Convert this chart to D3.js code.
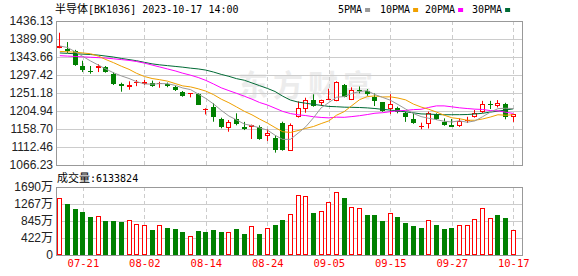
<!DOCTYPE html>
<html>
<head>
<meta charset="utf-8">
<script src="https://cdn.jsdelivr.net/npm/d3@7"></script>
<style>
  body { margin: 0; background: #fff; }
  svg { display: block; }
</style>
</head>
<body>
<div id="chart"></div>
<script>
var dates = ["07-18","07-19","07-20","07-21","07-24","07-25","07-26","07-27","07-28","07-31",
  "08-01","08-02","08-03","08-04","08-07","08-08","08-09","08-10","08-11","08-14",
  "08-15","08-16","08-17","08-18","08-21","08-22","08-23","08-24","08-25","08-28",
  "08-29","08-30","08-31","09-01","09-04","09-05","09-06","09-07","09-08","09-11",
  "09-12","09-13","09-14","09-15","09-18","09-19","09-20","09-21","09-22","09-25",
  "09-26","09-27","09-28","10-09","10-10","10-11","10-12","10-13","10-16","10-17"];

var openP = [1368,1365,1360,1321,1308.4,1315,1318.7,1300,1274.3,1265.8,
  1277,1275.4,1276,1277,1274,1267.4,1253.7,1247.5,1247.8,1210,
  1215.2,1183.6,1160.4,1183.6,1164.6,1165,1164.6,1140.6,1136.3,1174.6,
  1103,1188.7,1210,1233.2,1224.7,1235,1231.4,1271.7,1234,1258,
  1257,1241.6,1227,1209.5,1213.4,1200.7,1184.4,1164,1170.7,1196.5,
  1177.4,1169,1167,1180.4,1189.5,1203,1223.5,1217,1222.9,1190.5];
var highP = [1406,1382,1362,1334,1320.5,1325,1320.5,1304.3,1277.6,1281.2,
  1284.5,1284.6,1283,1280,1278,1270,1256.3,1251,1250.4,1212,
  1224.7,1187.7,1181.8,1199,1177,1170,1168,1158,1143.2,1177.5,
  1173,1229.6,1239,1247.8,1234,1262,1281.3,1274.3,1265.8,1268,
  1261,1250,1228,1248,1216,1203,1200,1175,1203.3,1199,
  1186,1184.3,1186,1190,1207.5,1231,1231,1233,1226,1197];
var lowP = [1366,1354,1321,1305,1300.7,1305,1303.3,1271.7,1254.5,1259.6,
  1268.8,1272,1267,1264.6,1266,1256.3,1241.6,1240,1220.3,1196,
  1177.4,1160.5,1151.7,1168.2,1156,1133,1131,1128,1098,1103,
  1102.8,1188,1200.5,1216,1218,1233,1230,1240,1233,1250.4,
  1244,1217.7,1203,1197,1199,1177,1172,1158,1160,1181.8,
  1167,1164,1164,1174,1188,1200,1210,1214,1183.6,1177];
var closeP = [1373,1358,1322,1309.5,1304.3,1321,1306,1274.3,1270,1271,
  1279.5,1278.6,1270,1278,1269,1259,1244.2,1250,1221,1211,
  1188.7,1163,1176.7,1170.8,1157.8,1168,1134,1149.2,1104.3,1104.7,
  1169,1212.9,1232,1218.6,1233.2,1237,1280,1241.6,1258.9,1257,
  1247.8,1230.6,1205,1222.9,1201.6,1190,1173,1165.5,1200.7,1184.4,
  1169,1164.3,1180,1183,1200.7,1222.9,1222,1226,1188.7,1196];

// 成交量, 万
var volume = [1426,1261,1137,1063,940,981,841,841,816,882,
  766,734,618,758,668,643,569,462,594,569,
  618,569,569,643,519,709,519,668,742,865,
  1030,1500,1475,1055,1104,1327,1574,1426,1203,1178,
  989,989,841,1055,940,791,717,668,882,742,
  643,668,734,734,907,1178,931,989,915,613.38];
// 1 = red (rise) volume bar, 0 = green, as in the picture
var volRise = [1,0,0,0,0,1,0,0,0,1, 1,1,0,1,0,0,0,1,0,0,
  0,0,1,0,0,1,0,1,0,0, 1,1,1,0,1,1,1,0,1,1,
  0,0,0,1,0,0,0,0,1,0, 0,0,1,1,1,1,1,0,0,1];

var ma5 = [1372,1368,1357,1345,1333.4,1323,1312.6,1303,1295.1,1288.5,
  1280.2,1274.7,1273.8,1275.4,1275,1270.9,1264,1260,1248.6,1237,
  1223,1206.7,1192.1,1182,1171.4,1167.3,1161.5,1156,1142.7,1132,
  1132.2,1148,1164.6,1187.4,1213.1,1226.7,1240.2,1242.1,1250.1,1254.9,
  1257.1,1247.2,1239.9,1232.7,1221.6,1210,1198.5,1190.6,1186.2,1182.7,
  1178.5,1176.8,1179.7,1176.1,1179.4,1190.2,1201.7,1210.9,1212.1,1211.1];
var ma10 = [1358,1357,1356,1354,1352,1346,1337,1329,1320,1312,
  1301.6,1293.6,1288.4,1285.3,1281.7,1275.5,1269.4,1266.9,1262,1256,
  1247,1235.4,1226.1,1215.3,1204.2,1195.1,1184.1,1174,1162.4,1151.7,
  1149.8,1154.7,1160.3,1165.1,1172.6,1179.5,1194.1,1203.3,1218.8,1234,
  1241.9,1243.7,1241,1241.4,1238.2,1233.5,1222.8,1215.2,1209.4,1202.2,
  1194.3,1187.6,1185.1,1181.2,1181.1,1184.4,1189.3,1195.3,1194.1,1195.3];
var ma20 = [1347,1346,1345,1344,1343,1342,1341,1339,1337,1335,
  1332,1328,1323,1318,1313,1308,1302,1297,1291,1283.5,
  1274.3,1264.5,1257.2,1250.3,1243,1235.3,1226.7,1220.5,1212.2,1203.9,
  1198.4,1195.1,1193.2,1190.2,1188.4,1187.3,1189.1,1188.7,1190.6,1192.9,
  1195.8,1199.2,1200.6,1203.2,1205.4,1206.5,1208.5,1209.3,1214.1,1218.1,
  1218.1,1215.7,1213.1,1211.3,1209.7,1208.9,1206,1205.3,1201.8,1198.7];
var ma30 = [1354,1353,1352,1351,1350,1348.5,1346,1343.5,1340,1337,
  1334,1330,1326,1323.5,1321.5,1319.5,1317.5,1315,1313,1310,
  1305,1299,1294,1288,1284,1277,1270,1263,1255,1243,
  1233,1227.9,1224.9,1221.9,1219.5,1216.7,1215.9,1214.8,1214.4,1213.9,
  1212.9,1211.3,1209.1,1207.3,1205,1202.7,1200.3,1197.5,1196.9,1196,
  1195.3,1195.4,1195.5,1195.9,1197.3,1199.1,1202.1,1204.6,1207.4,1210.5];

var priceTicks = [1066.23,1112.46,1158.70,1204.94,1251.18,1297.42,1343.66,1389.90,1436.13];
var volTicks = [0,422,845,1267,1690];
var dateTicks = ["07-21","08-02","08-14","08-24","09-05","09-15","09-27","10-17"];
var lastVolume = "6133824";

var maSeries = [
  { name: "5PMA", values: ma5, color: "#999999" },
  { name: "10PMA", values: ma10, color: "#f0a000" },
  { name: "20PMA", values: ma20, color: "#ff00ff" },
  { name: "30PMA", values: ma30, color: "#006a35" }
];

var W = 578, H = 276;
var left = 56, right = 522.5;
var mono = "'DejaVu Sans Mono', monospace";
var cjk = "'Noto Sans CJK SC', sans-serif";
var up = "#ff0000", down = "#008000";

var svg = d3.select('#chart').append('svg').attr('width', W).attr('height', H);

var x = d3.scaleLinear().domain([-0.5, 60.2]).range([left, right]);
var y = d3.scaleLinear().domain([1066.23, 1436.13]).range([165, 21]);
var yv = d3.scaleLinear().domain([0, 1690]).range([255, 187]);

var idx = d3.range(dates.length);
var tickIdx = dateTicks.map(function (d) { return dates.indexOf(d); });

// watermark
svg.append('text')
  .attr('x', 238).attr('y', 96)
  .attr('font-family', cjk).attr('font-size', 30).attr('font-weight', 'bold')
  .attr('letter-spacing', 5).attr('fill', '#ececec')
  .text('东方财富');

// horizontal grids + labels
function leftAxis(scale, ticks, fmt) {
  var g = svg.append('g')
    .attr('transform', 'translate(' + left + ',0)')
    .call(d3.axisLeft(scale).tickValues(ticks).tickSize(-(right - left)).tickPadding(3).tickFormat(fmt));
  g.select('.domain').remove();
  g.selectAll('.tick line').attr('stroke', '#cccccc');
  g.selectAll('.tick text')
    .attr('font-family', "'Liberation Sans', Arial, 'Noto Sans CJK SC', sans-serif")
    .attr('font-size', 12).attr('fill', '#222');
  return g;
}
leftAxis(y, priceTicks, d3.format('.2f'));
leftAxis(yv, volTicks, function (d) { return d === 0 ? '0' : d + '万'; });

// vertical dashed grids
[[21, 165], [187, 255]].forEach(function (r) {
  svg.append('g').selectAll('line')
    .data(tickIdx)
    .enter()
    .append('line')
    .attr('x1', function (i) { return Math.round(x(i)) + 0.5; })
    .attr('x2', function (i) { return Math.round(x(i)) + 0.5; })
    .attr('y1', r[0]).attr('y2', r[1])
    .attr('stroke', '#cccccc').attr('stroke-dasharray', '4,3');
});

// candles
function bx(i) { return Math.round(x(i) - 2.5); }
function isUp(i) { return closeP[i] >= openP[i]; }

var candles = svg.append('g');
candles.selectAll('line')
  .data(idx)
  .enter()
  .append('line')
  .attr('x1', function (i) { return bx(i) + 2.5; })
  .attr('x2', function (i) { return bx(i) + 2.5; })
  .attr('y1', function (i) { return y(highP[i]); })
  .attr('y2', function (i) { return y(lowP[i]); })
  .attr('stroke', function (i) { return isUp(i) ? up : down; });

candles.selectAll('rect')
  .data(idx)
  .enter()
  .append('rect')
  .each(function (i) {
    var top = Math.round(y(Math.max(openP[i], closeP[i])));
    var bot = Math.round(y(Math.min(openP[i], closeP[i])));
    var h = Math.max(bot - top, 1);
    var r = d3.select(this);
    if (isUp(i) && h > 2) {
      r.attr('x', bx(i) + 0.5).attr('y', top + 0.5).attr('width', 4).attr('height', h - 1)
        .attr('fill', '#fff').attr('stroke', up);
    } else {
      r.attr('x', bx(i)).attr('y', top).attr('width', 5).attr('height', h)
        .attr('fill', isUp(i) ? up : down);
    }
  });

// moving averages
var line = d3.line()
  .x(function (d, i) { return x(i); })
  .y(function (d) { return y(d); });

svg.append('g').selectAll('path')
  .data(maSeries.slice().reverse())
  .enter()
  .append('path')
  .attr('d', function (s) { return line(s.values); })
  .attr('fill', 'none')
  .attr('stroke', function (s) { return s.color; })
  .attr('stroke-width', 1);

// volume bars
svg.append('g').selectAll('rect')
  .data(idx)
  .enter()
  .append('rect')
  .each(function (i) {
    var top = Math.round(yv(volume[i]));
    var r = d3.select(this);
    if (volRise[i]) {
      r.attr('x', bx(i) + 0.5).attr('y', top + 0.5).attr('width', 4).attr('height', 255 - top - 1)
        .attr('fill', '#fff').attr('stroke', up);
    } else {
      r.attr('x', bx(i)).attr('y', top).attr('width', 5).attr('height', 255 - top)
        .attr('fill', down);
    }
  });

// panel borders
[[21, 165], [187, 255]].forEach(function (r) {
  svg.append('rect')
    .attr('x', left + 0.5).attr('y', r[0] + 0.5)
    .attr('width', right - left - 0.5).attr('height', r[1] - r[0])
    .attr('fill', 'none').attr('stroke', '#999999');
});

// x axis labels
var xg = svg.append('g')
  .attr('transform', 'translate(0,257)')
  .call(d3.axisBottom(x).tickValues(tickIdx).tickSize(0).tickPadding(3)
    .tickFormat(function (i) { return dates[i]; }));
xg.select('.domain').remove();
xg.selectAll('.tick text')
  .attr('font-family', mono).attr('font-size', 10.5).attr('fill', '#ff0000');

// title
var title = svg.append('text').attr('x', 55).attr('y', 13).attr('fill', '#000');
title.append('tspan').attr('font-family', cjk).attr('font-size', 11).text('半导体');
title.append('tspan').attr('font-family', mono).attr('font-size', 10).text('[BK1036] 2023-10-17 14:00');

// legend
var legendX = [338, 380, 425, 472];
var lg = svg.append('g').selectAll('g')
  .data(maSeries)
  .enter()
  .append('g')
  .attr('transform', function (d, i) { return 'translate(' + legendX[i] + ',0)'; });
lg.append('text')
  .attr('y', 13)
  .attr('font-family', mono).attr('font-size', 10).attr('fill', '#000')
  .text(function (d) { return d.name; });
lg.append('rect')
  .attr('x', function (d) { return d.name.length * 6.02 + 3; })
  .attr('y', 8).attr('width', 5).attr('height', 4)
  .attr('fill', function (d) { return d.color; });

// volume caption
var vt = svg.append('text').attr('x', 57).attr('y', 182).attr('fill', '#000');
vt.append('tspan').attr('font-family', cjk).attr('font-size', 11).text('成交量');
vt.append('tspan').attr('font-family', mono).attr('font-size', 10).text(':' + lastVolume);
</script>
</body>
</html>
